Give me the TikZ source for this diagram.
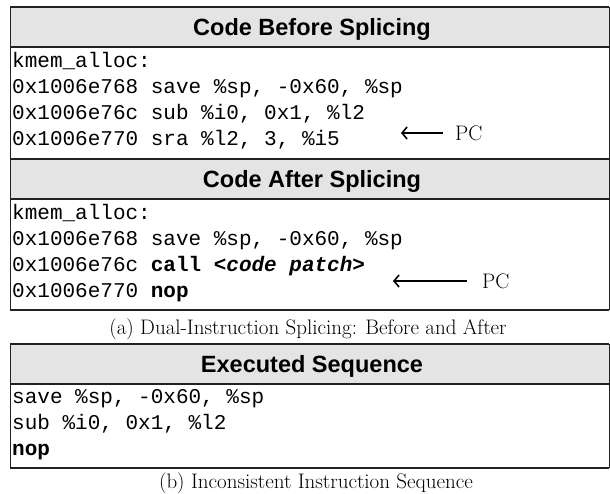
\documentclass[tikz,border=0pt]{standalone}
\usepackage{fontspec}
\setsansfont{Liberation Sans}
\setmonofont{Liberation Mono}
\usepackage{xcolor}
\usetikzlibrary{arrows.meta}

\definecolor{headgray}{HTML}{E4E4E4}
\definecolor{rulegray}{HTML}{222222}

\begin{document}
\begin{tikzpicture}[x=1pt, y=-1pt,
        headtext/.style = {anchor=base, inner sep=0pt, font=\fontsize{23.5}{26}\selectfont\sffamily\bfseries},
        codeline/.style = {anchor=base west, inner sep=0pt, font=\fontsize{21}{26}\selectfont\ttfamily},
        captext/.style = {anchor=base, inner sep=0pt, font=\fontsize{21}{24}\selectfont},
        pctext/.style = {anchor=base west, inner sep=0pt, font=\fontsize{21}{24}\selectfont},
        pcarrow/.style = {line width=1.6pt, {Straight Barb[length=5pt, width=12pt]}-},
        hrule/.style = {line width=1.8pt, rulegray},
        vrule/.style = {line width=0.9pt, rulegray}]
        \useasboundingbox (0, 0) rectangle (610, 493);

        % header bands
        \fill[headgray] (10, 7) rectangle (609, 47);
        \fill[headgray] (10, 159) rectangle (609, 199);
        \fill[headgray] (10, 344) rectangle (609, 384);

        % frame of (a)
        \draw[vrule] (10, 7) -- (10, 310);
        \draw[vrule] (609, 7) -- (609, 310);
        \draw[hrule] (10, 7) -- (609, 7);
        \draw[hrule] (10, 47) -- (609, 47);
        \draw[hrule] (10, 159) -- (609, 159);
        \draw[hrule] (10, 199) -- (609, 199);
        \draw[hrule] (10, 310) -- (609, 310);

        % frame of (b)
        \draw[vrule] (10, 344) -- (10, 468);
        \draw[vrule] (609, 344) -- (609, 468);
        \draw[hrule] (10, 344) -- (609, 344);
        \draw[hrule] (10, 384) -- (609, 384);
        \draw[hrule] (10, 468) -- (609, 468);

        % before splicing
        \node[headtext] (hdBefore) at (312, 35) {Code Before Splicing};
        \node[codeline] (before0) at (12, 67) {kmem\_alloc:};
        \node[codeline] (before1) at (12, 93) {0x1006e768 save \%sp, -0x60, \%sp};
        \node[codeline] (before2) at (12, 119) {0x1006e76c sub \%i0, 0x1, \%l2};
        \node[codeline] (before3) at (12, 145) {0x1006e770 sra \%l2, 3, \%i5};
        \node[pctext] (pcBefore) at (455, 140) {PC};
        \coordinate (tailBefore) at (443, 133);
        \coordinate (tipBefore) at (401, 133);
        \draw[pcarrow] (tipBefore) -- (tailBefore);

        % after splicing
        \node[headtext] (hdAfter) at (312, 187) {Code After Splicing};
        \node[codeline] (after0) at (12, 219) {kmem\_alloc:};
        \node[codeline] (after1) at (12, 245) {0x1006e768 save \%sp, -0x60, \%sp};
        \node[codeline] (after2) at (12, 271) {0x1006e76c \textbf{call \textit{<code patch>}}};
        \node[codeline] (after3) at (12, 297) {0x1006e770 \textbf{nop}};
        \node[pctext] (pcAfter) at (482, 288) {PC};
        \coordinate (tailAfter) at (467, 281);
        \coordinate (tipAfter) at (393, 281);
        \draw[pcarrow] (tipAfter) -- (tailAfter);

        \node[captext] (capA) at (308, 334) {(a) Dual-Instruction Splicing: Before and After};

        % executed sequence
        \node[headtext] (hdExec) at (312, 372) {Executed Sequence};
        \node[codeline] (exec1) at (12, 403) {save \%sp, -0x60, \%sp};
        \node[codeline] (exec2) at (12, 429) {sub \%i0, 0x1, \%l2};
        \node[codeline] (exec3) at (12, 455) {\textbf{nop}};

        \node[captext] (capB) at (316, 488) {(b) Inconsistent Instruction Sequence};
    \end{tikzpicture}
\end{document}
